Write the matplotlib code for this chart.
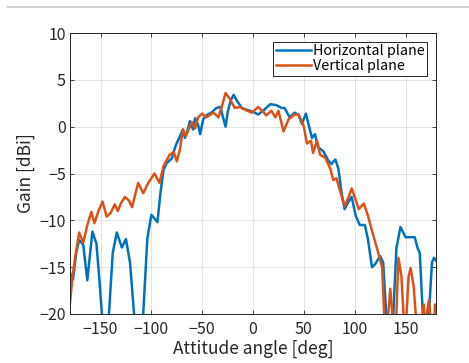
import matplotlib
matplotlib.use("Agg")
import matplotlib.pyplot as plt
from matplotlib.lines import Line2D

plt.rcParams['font.family'] = ['Noto Sans CJK JP', 'DejaVu Sans']

# horizontal plane (blue)
h_ang = [-180, -177, -174, -171, -167, -163, -158, -154, -151, -148, -145, -142, -138, -134,
         -129, -125, -121, -117, -113, -108, -104, -100, -94, -91, -88, -85, -80, -76, -73,
         -69, -67, -64, -62, -59, -57, -54, -52, -49, -46, -41, -36, -32, -30, -27, -25, -22,
         -19, -16, -11, -6, 0, 5, 10, 17, 23, 28, 31, 36, 41, 45, 48, 52, 54, 58, 61, 64, 69,
         74, 77, 81, 84, 87, 90, 94, 97, 101, 105, 110, 113, 117, 120, 125, 128, 131, 134, 138,
         141, 145, 150, 155, 159, 162, 164, 167, 170, 173, 176, 178, 180]
h_gain = [-15.6, -16.3, -13.5, -12.1, -12.6, -16.4, -11.2, -12.5, -16.5, -21, -24, -20.5, -13.5,
          -11.3, -12.9, -12.0, -14.5, -20, -24, -20, -12, -9.4, -10.2, -7, -4.6, -3.9, -3.4,
          -2.0, -1.3, -0.3, -1.2, -0.2, 0.6, -0.3, 0.9, 0.2, -0.8, 0.8, 1.2, 1.5, 2.0, 2.1, 1.2,
          0.0, 1.5, 2.8, 3.4, 2.8, 2.0, 1.8, 1.6, 1.3, 1.7, 2.4, 2.3, 2.0, 2.0, 1.0, 1.5, 1.2,
          0.3, 1.4, 0.5, -1.2, -0.8, -2.2, -2.6, -3.6, -4.0, -3.5, -4.5, -7.0, -8.8, -8.0, -7.5,
          -9.5, -10.5, -10.5, -12, -15, -14.7, -13.8, -14.5, -20, -24, -20, -13, -10.7, -11.8,
          -11.8, -11.8, -13, -13.5, -20, -24, -20, -14.5, -14, -14.3]

# vertical plane (orange)
v_ang = [-180, -178, -175, -171, -167, -163, -159, -156, -152, -148, -144, -140, -136, -133,
         -130, -126, -122, -119, -113, -108, -103, -97, -92, -88, -85, -82, -78, -75, -72, -69,
         -66, -63, -60, -57, -54, -50, -46, -39, -34, -30, -27, -23, -18, -13, -8, -1, 5, 10,
         13, 18, 22, 25, 30, 35, 41, 45, 50, 53, 57, 59, 63, 66, 71, 76, 79, 82, 86, 90, 94, 97,
         100, 104, 109, 113, 118, 122, 127, 129, 131, 133, 135, 137, 139, 141, 143, 146, 148,
         149.5, 151, 153, 155, 158, 160, 162, 165, 167, 168, 169.5, 171, 173, 175, 177, 179, 180]
v_gain = [-18.8, -16.5, -14, -11.3, -12.4, -10.5, -9.1, -10.3, -9, -8.0, -9.6, -9.2, -8.3, -9.0,
          -8.2, -7.5, -7.9, -8.6, -6.0, -7.1, -6, -5.0, -6.0, -4.2, -3.6, -3.0, -2.7, -3.7, -2.5,
          -0.3, -1.0, -0.2, 0.5, -0.2, 1.0, 1.4, 1.0, 1.5, 1.0, 2.4, 3.6, 3.0, 2.0, 2.1, 1.8, 1.5,
          2.1, 1.6, 1.2, 1.7, 1.0, 1.7, -0.5, 0.8, 1.3, 1.3, 0.0, -1.8, -1.5, -2.8, -1.5, -3.0,
          -3.3, -4.5, -5.7, -5.5, -7, -8.5, -7.5, -6.6, -7.5, -8.8, -8.2, -9.5, -11.5, -13, -15,
          -20, -24, -20, -17.3, -20, -24, -20, -14, -16, -20, -24, -20, -16, -15.1, -17, -20,
          -24, -22, -20, -19, -22, -20, -18.5, -21, -24, -19, -19]

xticks = [-150, -100, -50, 0, 50, 100, 150]
yticks = [-20, -15, -10, -5, 0, 5, 10]

fig = plt.figure(figsize=(4.69, 3.63), dpi=100)
ax = fig.add_axes([0.1493, 0.135, 0.7804, 0.774])

ax.plot(h_ang, h_gain, color='#0072BD', lw=1.8, label='Horizontal plane')
ax.plot(v_ang, v_gain, color='#D95319', lw=1.8, label='Vertical plane')

ax.set_xlim(-180, 180)
ax.set_ylim(-20, 10)
ax.set_xticks(xticks)
ax.set_yticks(yticks)
ax.grid(True, color='#262626', alpha=0.13, lw=0.7)
ax.tick_params(direction='in', top=True, right=True, length=3, labelsize=11.5,
               colors='#262626', width=0.6)
ax.tick_params(axis='x', pad=5)
ax.tick_params(axis='y', pad=3)
for s in ax.spines.values():
    s.set_color('#262626')
    s.set_linewidth(0.7)

ax.set_xlabel('Attitude angle [deg]', fontsize=12.5, color='#262626', labelpad=1)
ax.set_ylabel('Gain [dBi]', fontsize=12.5, color='#262626', labelpad=3)

leg = ax.legend(loc='upper right', fontsize=10.3, fancybox=False, framealpha=1,
                handlelength=2.4, handletextpad=0.15, borderpad=0.2,
                labelspacing=0.05, borderaxespad=0.6)
leg.get_frame().set_edgecolor('#262626')
leg.get_frame().set_linewidth(0.7)

# thin gray rule at the top of the picture
fig.add_artist(Line2D([0.017, 1.0], [0.981, 0.981], color='#d0d0d0', lw=1.5))

fig.savefig('out.png', dpi=100)
